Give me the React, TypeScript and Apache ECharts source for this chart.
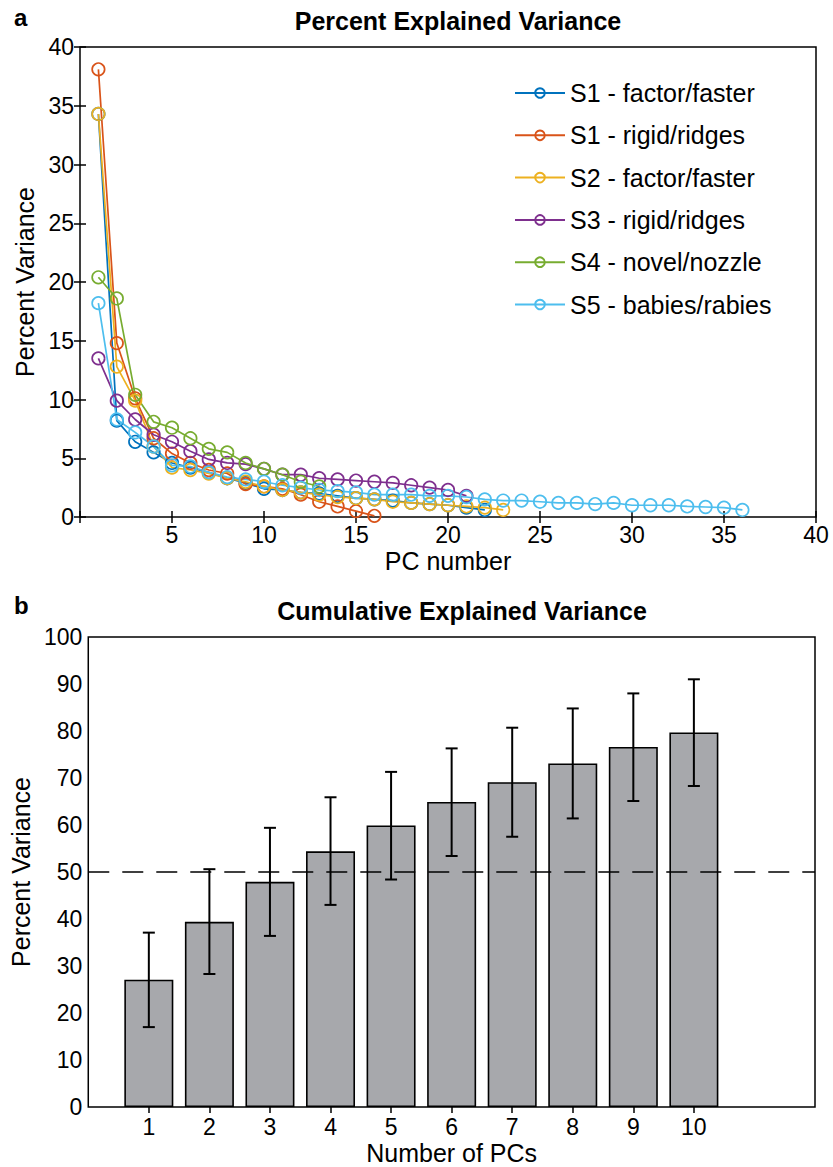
import React, { useEffect, useRef } from "react";
import * as echarts from "echarts";

// ---------- Panel a: percent explained variance per PC ----------
const seriesNames = [
  "S1 - factor/faster",
  "S1 - rigid/ridges",
  "S2 - factor/faster",
  "S3 - rigid/ridges",
  "S4 - novel/nozzle",
  "S5 - babies/rabies",
];
const seriesColors = ["#0072BD", "#D95319", "#EDB120", "#7E2F8E", "#77AC30", "#4DBEEE"];

const s1FactorFaster = [
  34.3, 8.2, 6.4, 5.5, 4.6, 4.2, 3.8, 3.3, 2.9, 2.4, 2.3, 2.1, 2.0, 1.8, 1.6, 1.5, 1.4, 1.2, 1.1, 1.0, 0.8, 0.6,
];
const s1RigidRidges = [38.1, 14.8, 10.1, 6.7, 5.4, 4.6, 4.0, 3.7, 2.8, 2.6, 2.4, 1.9, 1.3, 0.9, 0.5, 0.1];
const s2FactorFaster = [
  34.3, 12.8, 9.9, 6.0, 4.2, 4.0, 3.7, 3.3, 3.0, 2.6, 2.3, 2.1, 1.9, 1.7, 1.6, 1.5, 1.3, 1.2, 1.1, 1.0, 0.9, 0.8, 0.6,
];
const s3RigidRidges = [
  13.5, 9.9, 8.3, 7.0, 6.4, 5.6, 4.9, 4.6, 4.5, 4.1, 3.6, 3.6, 3.3, 3.2, 3.1, 3.0, 2.9, 2.7, 2.5, 2.3, 1.8,
];
const s4NovelNozzle = [20.4, 18.6, 10.4, 8.1, 7.6, 6.7, 5.8, 5.5, 4.6, 4.1, 3.6, 3.0, 2.6];
const s5BabiesRabies = [
  18.2, 8.3, 7.2, 6.0, 4.4, 4.3, 3.8, 3.4, 3.2, 3.0, 2.7, 2.5, 2.3, 2.2, 2.1, 1.9, 1.9, 1.9, 1.8, 1.8, 1.7, 1.5,
  1.4, 1.4, 1.3, 1.2, 1.2, 1.1, 1.2, 1.0, 1.0, 1.0, 0.9, 0.85, 0.8, 0.6,
];
const lineSeriesValues = [
  s1FactorFaster,
  s1RigidRidges,
  s2FactorFaster,
  s3RigidRidges,
  s4NovelNozzle,
  s5BabiesRabies,
];

// ---------- Panel b: cumulative explained variance ----------
const pcCounts = ["1", "2", "3", "4", "5", "6", "7", "8", "9", "10"];
const cumulativeMean = [27.1, 39.4, 47.9, 54.4, 59.9, 64.9, 69.1, 73.1, 76.6, 79.7];
const cumulativeLow = [17.0, 28.3, 36.4, 43.0, 48.4, 53.4, 57.5, 61.4, 65.1, 68.3];
const cumulativeHigh = [37.1, 50.6, 59.4, 65.9, 71.3, 76.3, 80.7, 84.8, 88.0, 91.0];
const thresholdLevel = 50;

const FONT = "'Liberation Sans', Arial, Helvetica, sans-serif";

export default function App() {
  const ref = useRef<HTMLDivElement>(null);

  useEffect(() => {
    document.body.style.margin = "0";
    if (!ref.current) return;
    const chart = echarts.init(ref.current, null, { renderer: "svg" });

    const tickStyle = { inside: true, length: 6, lineStyle: { color: "#000", width: 1.5 } };
    const labelStyle = { color: "#000", fontSize: 23, fontFamily: FONT };
    const nameStyle = { color: "#000", fontSize: 25, fontFamily: FONT };

    // category slots for panel b: empty slot at 0, PCs, then two empty slots
    const slotCats = ["", ...pcCounts, " ", "  "];
    const barData = slotCats.map((c) => {
      const k = pcCounts.indexOf(c);
      return k >= 0 ? cumulativeMean[k] : "-";
    });
    const errData = pcCounts.map((c, k) => [slotCats.indexOf(c), cumulativeLow[k], cumulativeHigh[k]]);
    const tickOnPc = (idx: number) => pcCounts.indexOf(slotCats[idx]) >= 0;

    const option: any = {
      animation: false,
      textStyle: { fontFamily: FONT },
      grid: [
        { left: 80, top: 47, width: 736, height: 470, show: true, borderColor: "#000", borderWidth: 1.5, backgroundColor: "transparent" },
        { left: 80, top: 637, width: 735, height: 470, show: true, borderColor: "#000", borderWidth: 1.5, backgroundColor: "transparent" },
      ],
      xAxis: [
        {
          gridIndex: 0,
          type: "value",
          min: 0,
          max: 40,
          interval: 5,
          position: "bottom",
          axisLine: { show: false },
          axisTick: tickStyle,
          splitLine: { show: false },
          axisLabel: { ...labelStyle, margin: 6, formatter: (v: number) => (v === 0 ? "" : String(v)) },
          name: "PC number",
          nameLocation: "middle",
          nameGap: 31,
          nameTextStyle: nameStyle,
        },
        {
          gridIndex: 0,
          type: "value",
          min: 0,
          max: 40,
          interval: 5,
          position: "top",
          axisLine: { show: false },
          axisTick: tickStyle,
          splitLine: { show: false },
          axisLabel: { show: false },
        },
        {
          gridIndex: 1,
          type: "category",
          data: slotCats,
          boundaryGap: false,
          position: "bottom",
          axisLine: { show: false },
          axisTick: { ...tickStyle, interval: tickOnPc },
          splitLine: { show: false },
          axisLabel: { ...labelStyle, margin: 8, interval: 0 },
          name: "Number of PCs",
          nameLocation: "middle",
          nameGap: 33,
          nameTextStyle: nameStyle,
        },
        {
          gridIndex: 1,
          type: "category",
          data: slotCats,
          boundaryGap: false,
          position: "top",
          axisLine: { show: false },
          axisTick: { ...tickStyle, interval: tickOnPc },
          splitLine: { show: false },
          axisLabel: { show: false },
        },
      ],
      yAxis: [
        {
          gridIndex: 0,
          type: "value",
          min: 0,
          max: 40,
          interval: 5,
          position: "left",
          axisLine: { show: false },
          axisTick: tickStyle,
          splitLine: { show: false },
          axisLabel: { ...labelStyle, margin: 6 },
          name: "Percent Variance",
          nameLocation: "middle",
          nameGap: 36,
          nameTextStyle: nameStyle,
        },
        {
          gridIndex: 0,
          type: "value",
          min: 0,
          max: 40,
          interval: 5,
          position: "right",
          axisLine: { show: false },
          axisTick: tickStyle,
          splitLine: { show: false },
          axisLabel: { show: false },
        },
        {
          gridIndex: 1,
          type: "value",
          min: 0,
          max: 100,
          interval: 10,
          position: "left",
          axisLine: { show: false },
          axisTick: tickStyle,
          splitLine: { show: false },
          axisLabel: { ...labelStyle, margin: 6 },
          name: "Percent Variance",
          nameLocation: "middle",
          nameGap: 48,
          nameTextStyle: nameStyle,
        },
        {
          gridIndex: 1,
          type: "value",
          min: 0,
          max: 100,
          interval: 10,
          position: "right",
          axisLine: { show: false },
          axisTick: tickStyle,
          splitLine: { show: false },
          axisLabel: { show: false },
        },
      ],
      legend: {
        orient: "vertical",
        left: 509,
        top: 73,
        itemWidth: 50,
        itemHeight: 12,
        itemGap: 12.3,
        textStyle: { color: "#000", fontSize: 25, fontFamily: FONT, lineHeight: 30 },
        data: seriesNames,
        selectedMode: false,
      },
      series: [
        ...lineSeriesValues.map((vals, i) => ({
          name: seriesNames[i],
          type: "line",
          xAxisIndex: 0,
          yAxisIndex: 0,
          data: vals.map((v, k) => [k + 1, v]),
          symbol: "circle",
          symbolSize: 12.5,
          itemStyle: { color: "rgba(0,0,0,0)", borderColor: seriesColors[i], borderWidth: 1.7 },
          lineStyle: { color: seriesColors[i], width: 1.7 },
          emphasis: { disabled: true },
        })),
        {
          type: "bar",
          xAxisIndex: 2,
          yAxisIndex: 2,
          data: barData,
          barWidth: 49,
          itemStyle: { color: "#a7a8ac", borderColor: "#000", borderWidth: 1.6 },
          emphasis: { disabled: true },
          markLine: {
            silent: true,
            symbol: ["none", "none"],
            label: { show: false },
            lineStyle: { color: "#000", type: [21, 13], width: 1.6 },
            data: [{ yAxis: thresholdLevel }],
          },
        },
        {
          type: "custom",
          xAxisIndex: 2,
          yAxisIndex: 2,
          data: errData,
          encode: { x: 0, y: [1, 2] },
          z: 10,
          renderItem: (params: any, api: any) => {
            const x = api.value(0);
            const lo = api.coord([x, api.value(1)]);
            const hi = api.coord([x, api.value(2)]);
            const w = 6;
            const st = { stroke: "#000", lineWidth: 2 };
            return {
              type: "group",
              children: [
                { type: "line", shape: { x1: lo[0], y1: lo[1], x2: hi[0], y2: hi[1] }, style: st },
                { type: "line", shape: { x1: lo[0] - w, y1: lo[1], x2: lo[0] + w, y2: lo[1] }, style: st },
                { type: "line", shape: { x1: hi[0] - w, y1: hi[1], x2: hi[0] + w, y2: hi[1] }, style: st },
              ],
            };
          },
        },
      ],
      graphic: [
        {
          type: "text",
          x: 14,
          y: 17,
          style: { text: "a", font: `bold 24px ${FONT}`, fill: "#000", textAlign: "left", textVerticalAlign: "middle" },
        },
        {
          type: "text",
          x: 14,
          y: 605,
          style: { text: "b", font: `bold 24px ${FONT}`, fill: "#000", textAlign: "left", textVerticalAlign: "middle" },
        },
        {
          type: "text",
          x: 458,
          y: 21,
          style: {
            text: "Percent Explained Variance",
            font: `bold 25px ${FONT}`,
            fill: "#000",
            textAlign: "center",
            textVerticalAlign: "middle",
          },
        },
        {
          type: "text",
          x: 462,
          y: 611,
          style: {
            text: "Cumulative Explained Variance",
            font: `bold 25px ${FONT}`,
            fill: "#000",
            textAlign: "center",
            textVerticalAlign: "middle",
          },
        },
      ],
    };

    chart.setOption(option);
    return () => chart.dispose();
  }, []);

  return <div ref={ref} style={{ width: 833, height: 1167, overflow: "hidden" }} />;
}
